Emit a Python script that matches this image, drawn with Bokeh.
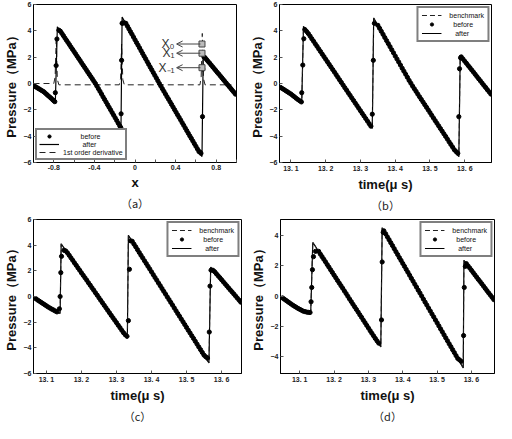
from bokeh.plotting import figure
from bokeh.layouts import column, row
from bokeh.models import Range1d, FixedTicker, Title, Legend, LegendItem, Arrow, OpenHead
from bokeh.embed import file_html
from bokeh.resources import INLINE
from bokeh.core.properties import value

# ---------------- data ----------------
# panel (a): space coordinate x
a_after_x = [-1.0, -0.9, -0.79, -0.785, -0.765, -0.39, -0.138, -0.127, 0.24, 0.66, 0.672, 1.0]
a_after_y = [-0.15, -0.62, -1.38, -1.45, 4.3, 0.0, -3.4, 5.05, 0.0, -5.55, 2.15, -0.9]
a_deriv_x = [-1.0, -0.8, -0.787, -0.776, -0.765, -0.75, -0.155, -0.142, -0.132, -0.12, -0.105,
             0.64, 0.652, 0.663, 0.674, 0.69, 0.95]
a_deriv_y = [0.0, 0.0, 0.5, 3.5, 0.3, -0.1, -0.1, 0.4, 3.0, 0.3, -0.1, -0.1, 0.5, 3.8, 0.4, -0.1, -0.1]
a_dots_x = [-0.99, -0.96, -0.93, -0.90, -0.87, -0.84, -0.81, -0.79, -0.785, -0.777, -0.769,
            -0.75, -0.72, -0.69, -0.66, -0.63, -0.60, -0.57, -0.54, -0.51, -0.48, -0.45, -0.42,
            -0.39, -0.36, -0.33, -0.30, -0.27, -0.24, -0.21, -0.18, -0.15, -0.14, -0.137, -0.132,
            -0.127, -0.12, -0.09, -0.06, -0.03, 0.0, 0.03, 0.06, 0.09, 0.12, 0.15, 0.18, 0.21,
            0.24, 0.27, 0.30, 0.33, 0.36, 0.39, 0.42, 0.45, 0.48, 0.51, 0.54, 0.57, 0.60, 0.63,
            0.65, 0.665, 0.668, 0.68, 0.69, 0.72, 0.75, 0.78, 0.81, 0.84, 0.87, 0.90, 0.93, 0.96, 0.99]
a_dots_y = [-0.20, -0.34, -0.48, -0.62, -0.83, -1.03, -1.24, -1.38, -0.70, 1.36, 3.38,
            4.05, 3.80, 3.45, 3.11, 2.76, 2.42, 2.07, 1.73, 1.38, 1.04, 0.69, 0.35,
            0.0, -0.40, -0.80, -1.21, -1.61, -2.01, -2.41, -2.81, -3.22, -3.35, -2.3, 1.76,
            4.57, 4.6, 4.57, 4.15, 3.74, 3.32, 2.91, 2.49, 2.07, 1.66, 1.24, 0.83, 0.42,
            0.0, -0.40, -0.80, -1.19, -1.59, -1.99, -2.39, -2.78, -3.18, -3.58, -3.98, -4.37, -4.77, -5.17,
            -5.3, -2.52, 1.1, 2.0, 1.96, 1.68, 1.41, 1.13, 0.85, 0.58, 0.30, 0.02, -0.25, -0.53, -0.81]
a_dots2_x = [-0.975, -0.945, -0.915, -0.885, -0.855, -0.825, -0.80,
             -0.735, -0.705, -0.675, -0.645, -0.615, -0.585, -0.555, -0.525, -0.495, -0.465,
             -0.435, -0.405, -0.375, -0.345, -0.315, -0.285, -0.255, -0.225, -0.195, -0.165,
             -0.105, -0.075, -0.045, -0.015, 0.015, 0.045, 0.075, 0.105, 0.135, 0.165,
             0.195, 0.225, 0.255, 0.285, 0.315, 0.345, 0.375, 0.405, 0.435, 0.465,
             0.495, 0.525, 0.555, 0.585, 0.615, 0.64,
             0.705, 0.735, 0.765, 0.795, 0.825, 0.855, 0.885, 0.915, 0.945, 0.975]
a_dots2_y = [-0.27, -0.41, -0.55, -0.72, -0.93, -1.13, -1.31,
             3.97, 3.63, 3.28, 2.94, 2.59, 2.25, 1.90, 1.55, 1.21, 0.86,
             0.52, 0.17, -0.20, -0.60, -1.01, -1.41, -1.81, -2.21, -2.61, -3.02,
             4.6, 4.36, 3.94, 3.53, 3.11, 2.70, 2.28, 1.87, 1.45, 1.04,
             0.62, 0.21, -0.20, -0.60, -1.0, -1.39, -1.79, -2.19, -2.58, -2.98,
             -3.38, -3.78, -4.17, -4.57, -4.97, -5.2,
             1.82, 1.55, 1.27, 0.99, 0.72, 0.44, 0.16, -0.12, -0.39, -0.67]
a_mark_x = [0.66, 0.66, 0.66]
a_mark_y = [3.0, 2.3, 1.2]
a_mark_text = ["X\u2080", "X\u2081", "X\u208b\u2081"]
a_text_x = [0.39, 0.39, 0.39]
a_arrow_end_x = [0.41, 0.41, 0.41]
a_arrow_start_x = [0.645, 0.645, 0.645]
a_xticks = [-0.8, -0.4, 0.0, 0.4, 0.8]
a_xticks_minor = [-1.0, -0.6, -0.2, 0.2, 0.6, 1.0]
a_xticklabels = ["-0.8", "-0.4", "0", "0.4", "0.8"]

# panel (b)
b_after_x = [13.067, 13.10, 13.131, 13.136, 13.334, 13.338, 13.445, 13.583, 13.587, 13.677]
b_after_y = [-0.25, -0.8, -1.45, 4.34, -3.4, 4.98, 0.0, -5.55, 2.12, -0.86]
b_dots_x = [13.07, 13.08, 13.09, 13.10, 13.11, 13.12, 13.13, 13.131, 13.134, 13.137,
            13.14, 13.15, 13.16, 13.17, 13.18, 13.19, 13.20, 13.21, 13.22, 13.23,
            13.24, 13.25, 13.26, 13.27, 13.28, 13.29, 13.30, 13.31, 13.32, 13.33,
            13.334, 13.337, 13.340,
            13.35, 13.36, 13.37, 13.38, 13.39, 13.40, 13.41, 13.42, 13.43, 13.44,
            13.45, 13.46, 13.47, 13.48, 13.49, 13.50, 13.51, 13.52, 13.53, 13.54,
            13.55, 13.56, 13.57, 13.58,
            13.583, 13.585, 13.588,
            13.59, 13.60, 13.61, 13.62, 13.63, 13.64, 13.65, 13.66, 13.67]
b_dots_y = [-0.30, -0.46, -0.63, -0.80, -1.01, -1.22, -1.40, -0.70, 1.40, 3.40,
            4.10, 3.79, 3.40, 3.01, 2.62, 2.23, 1.84, 1.45, 1.06, 0.67,
            0.27, -0.12, -0.51, -0.90, -1.29, -1.68, -2.07, -2.46, -2.85, -3.24,
            -2.33, 1.76, 4.57,
            4.42, 3.96, 3.49, 3.03, 2.56, 2.09, 1.63, 1.16, 0.70, 0.23,
            -0.20, -0.60, -1.01, -1.41, -1.81, -2.21, -2.62, -3.02, -3.42, -3.82,
            -4.22, -4.63, -5.03, -5.30,
            -2.52, 1.12, 1.95,
            2.02, 1.69, 1.36, 1.03, 0.70, 0.36, 0.03, -0.30, -0.63]
b_dots2_x = [13.075, 13.085, 13.095, 13.105, 13.115, 13.125,
             13.145, 13.155, 13.165, 13.175, 13.185, 13.195, 13.205, 13.215, 13.225, 13.235,
             13.245, 13.255, 13.265, 13.275, 13.285, 13.295, 13.305, 13.315, 13.325,
             13.355, 13.365, 13.375, 13.385, 13.395, 13.405, 13.415, 13.425, 13.435, 13.445,
             13.455, 13.465, 13.475, 13.485, 13.495, 13.505, 13.515, 13.525, 13.535, 13.545,
             13.555, 13.565, 13.575,
             13.595, 13.605, 13.615, 13.625, 13.635, 13.645, 13.655, 13.665, 13.675]
b_dots2_y = [-0.38, -0.55, -0.72, -0.91, -1.12, -1.31,
             3.95, 3.60, 3.21, 2.82, 2.43, 2.04, 1.65, 1.26, 0.87, 0.47,
             0.08, -0.32, -0.71, -1.10, -1.49, -1.88, -2.27, -2.66, -3.05,
             4.19, 3.73, 3.26, 2.80, 2.33, 1.86, 1.40, 0.93, 0.47, 0.02,
             -0.40, -0.81, -1.21, -1.61, -2.01, -2.42, -2.82, -3.22, -3.62, -4.02,
             -4.43, -4.83, -5.17,
             1.86, 1.53, 1.20, 0.87, 0.53, 0.20, -0.14, -0.47, -0.80]

# panel (c)
c_after_x = [13.067, 13.09, 13.11, 13.139, 13.142, 13.331, 13.334, 13.564, 13.569, 13.658]
c_after_y = [-0.12, -0.55, -0.9, -1.33, 4.1, -3.25, 4.77, -5.18, 2.29, -0.53]
c_dots_x = [13.07, 13.08, 13.09, 13.10, 13.11, 13.12, 13.13, 13.137, 13.139, 13.141, 13.143,
            13.15, 13.16, 13.17, 13.18, 13.19, 13.20, 13.21, 13.22, 13.23, 13.24,
            13.25, 13.26, 13.27, 13.28, 13.29, 13.30, 13.31, 13.32, 13.33,
            13.334, 13.337, 13.34,
            13.35, 13.36, 13.37, 13.38, 13.39, 13.40, 13.41, 13.42, 13.43, 13.44,
            13.45, 13.46, 13.47, 13.48, 13.49, 13.50, 13.51, 13.52, 13.53, 13.54,
            13.55, 13.56,
            13.565, 13.567, 13.57,
            13.58, 13.59, 13.60, 13.61, 13.62, 13.63, 13.64, 13.65]
c_dots_y = [-0.18, -0.37, -0.55, -0.73, -0.90, -1.05, -1.20, -0.96, 0.0, 1.86, 3.13,
            3.60, 3.40, 3.01, 2.62, 2.23, 1.84, 1.46, 1.07, 0.68, 0.29,
            -0.10, -0.49, -0.88, -1.27, -1.66, -2.04, -2.43, -2.82, -3.10,
            -1.88, 2.12, 4.34,
            4.08, 3.65, 3.21, 2.78, 2.35, 1.92, 1.48, 1.05, 0.62, 0.19,
            -0.24, -0.67, -1.11, -1.54, -1.97, -2.41, -2.84, -3.27, -3.71, -4.14,
            -4.57, -4.80,
            -2.77, 0.81, 2.05,
            1.94, 1.62, 1.31, 0.99, 0.67, 0.36, 0.04, -0.28]
c_dots2_x = [13.075, 13.085, 13.095, 13.105, 13.115, 13.125,
             13.155, 13.165, 13.175, 13.185, 13.195, 13.205, 13.215, 13.225, 13.235, 13.245,
             13.255, 13.265, 13.275, 13.285, 13.295, 13.305, 13.315, 13.325,
             13.345, 13.355, 13.365, 13.375, 13.385, 13.395, 13.405, 13.415, 13.425, 13.435,
             13.445, 13.455, 13.465, 13.475, 13.485, 13.495, 13.505, 13.515, 13.525, 13.535,
             13.545, 13.555,
             13.575, 13.585, 13.595, 13.605, 13.615, 13.625, 13.635, 13.645, 13.655]
c_dots2_y = [-0.28, -0.46, -0.64, -0.82, -0.98, -1.13,
             3.55, 3.21, 2.82, 2.43, 2.04, 1.65, 1.27, 0.88, 0.49, 0.10,
             -0.30, -0.69, -1.08, -1.47, -1.85, -2.24, -2.63, -2.98,
             4.30, 3.87, 3.43, 3.00, 2.57, 2.14, 1.70, 1.27, 0.84, 0.40,
             -0.03, -0.46, -0.89, -1.33, -1.76, -2.19, -2.63, -3.06, -3.49, -3.93,
             -4.36, -4.70,
             2.05, 1.78, 1.47, 1.15, 0.83, 0.51, 0.20, -0.12, -0.44]

# panel (d)
d_after_x = [13.048, 13.083, 13.112, 13.132, 13.138, 13.336, 13.340, 13.576, 13.578, 13.667]
d_after_y = [-0.08, -0.65, -1.02, -1.1, 3.54, -3.35, 4.5, -4.74, 2.35, -0.29]
d_dots_x = [13.05, 13.06, 13.07, 13.08, 13.09, 13.10, 13.11, 13.12, 13.13,
            13.133, 13.135, 13.137, 13.140, 13.146, 13.155,
            13.16, 13.17, 13.18, 13.19, 13.20, 13.21, 13.22, 13.23, 13.24, 13.25,
            13.26, 13.27, 13.28, 13.29, 13.30, 13.31, 13.32, 13.33,
            13.338, 13.340, 13.343,
            13.35, 13.36, 13.37, 13.38, 13.39, 13.40, 13.41, 13.42, 13.43, 13.44,
            13.45, 13.46, 13.47, 13.48, 13.49, 13.50, 13.51, 13.52, 13.53, 13.54,
            13.55, 13.56, 13.57,
            13.577, 13.579, 13.582,
            13.59, 13.60, 13.61, 13.62, 13.63, 13.64, 13.65, 13.66]
d_dots_y = [-0.12, -0.28, -0.44, -0.60, -0.74, -0.87, -0.99, -1.05, -1.08,
            -0.37, 0.57, 1.74, 2.60, 2.95, 2.95,
            2.77, 2.43, 2.08, 1.73, 1.38, 1.03, 0.69, 0.34, -0.01, -0.36,
            -0.71, -1.05, -1.40, -1.75, -2.10, -2.45, -2.79, -3.10,
            -1.57, 2.25, 4.20,
            4.11, 3.72, 3.33, 2.93, 2.54, 2.15, 1.76, 1.37, 0.98, 0.59,
            0.20, -0.20, -0.59, -0.98, -1.37, -1.76, -2.16, -2.55, -2.94, -3.33,
            -3.72, -4.11, -4.30,
            -2.60, 0.57, 1.96,
            1.99, 1.70, 1.40, 1.10, 0.81, 0.51, 0.21, -0.08]
d_dots2_x = [13.055, 13.065, 13.075, 13.085, 13.095, 13.105, 13.115, 13.125,
             13.165, 13.175, 13.185, 13.195, 13.205, 13.215, 13.225, 13.235, 13.245, 13.255,
             13.265, 13.275, 13.285, 13.295, 13.305, 13.315, 13.325,
             13.345, 13.355, 13.365, 13.375, 13.385, 13.395, 13.405, 13.415, 13.425, 13.435,
             13.445, 13.455, 13.465, 13.475, 13.485, 13.495, 13.505, 13.515, 13.525, 13.535,
             13.545, 13.555, 13.565,
             13.585, 13.595, 13.605, 13.615, 13.625, 13.635, 13.645, 13.655, 13.665]
d_dots2_y = [-0.20, -0.36, -0.52, -0.67, -0.81, -0.93, -1.02, -1.07,
             2.60, 2.26, 1.91, 1.56, 1.21, 0.86, 0.52, 0.17, -0.19, -0.54,
             -0.88, -1.23, -1.58, -1.93, -2.28, -2.62, -2.95,
             4.30, 3.91, 3.52, 3.13, 2.74, 2.35, 1.96, 1.57, 1.17, 0.78,
             0.39, 0.0, -0.40, -0.79, -1.18, -1.57, -1.96, -2.35, -2.75, -3.14,
             -3.53, -3.92, -4.20,
             2.14, 1.85, 1.55, 1.25, 0.96, 0.66, 0.36, 0.07, -0.23]

t_xticks = [13.1, 13.2, 13.3, 13.4, 13.5, 13.6]
t_xticklabels = ["13. 1", "13. 2", "13. 3", "13. 4", "13. 5", "13. 6"]
y_ticks_full = [-6, -4, -2, 0, 2, 4, 6]
y_ticks_d = [-4, -2, 0, 2, 4]

y_label = "Pressure\uff08MPa\uff09"
t_label = "time(\u03bc s)"
captions = ["\uff08a\uff09", "\uff08b\uff09", "\uff08c\uff09", "\uff08d\uff09"]

FONT = "Liberation Sans"


def make_fig(width, height, xr, yr, bl, br, bt, bb, xticks, xlabels, yticks, xlabel, caption,
             minor=None):
    p = figure(width=width, height=height, x_range=Range1d(*xr), y_range=Range1d(*yr),
               output_backend="svg", toolbar_location=None,
               min_border_left=bl, min_border_right=br, min_border_top=bt, min_border_bottom=bb)
    p.grid.visible = False
    p.outline_line_color = "black"
    p.outline_line_width = 1
    p.outline_line_alpha = 1
    p.background_fill_color = "white"
    p.border_fill_color = "white"
    p.xaxis.ticker = FixedTicker(ticks=xticks, minor_ticks=minor or [])
    p.xaxis.major_label_overrides = {t: l for t, l in zip(xticks, xlabels)}
    p.yaxis.ticker = FixedTicker(ticks=yticks)
    for ax in (p.xaxis[0], p.yaxis[0]):
        ax.major_tick_in = 3
        ax.major_tick_out = 0
        ax.minor_tick_in = 3 if (minor and ax is p.xaxis[0]) else 0
        ax.minor_tick_out = 0
        ax.major_label_text_font = FONT
        ax.major_label_text_font_size = "7px"
        ax.major_label_text_font_style = "bold"
        ax.major_label_text_color = "#222222"
        ax.major_label_standoff = 2
        ax.axis_label_standoff = 2
        ax.axis_label_text_font = FONT
        ax.axis_label_text_font_style = "bold"
        ax.axis_label_text_font_size = "13px"
        ax.axis_label_text_color = "#111111"
        ax.axis_line_color = "black"
        ax.major_tick_line_color = "#555555"
        ax.minor_tick_line_color = "#555555"
    p.yaxis.axis_label = y_label
    p.xaxis.axis_label = xlabel
    t = Title(text=caption, align="center", text_font_size="11px", text_font_style="normal",
              text_font="Noto Sans CJK SC", standoff=0, text_color="#222222")
    p.add_layout(t, "below")
    return p


def style_legend(leg, loc):
    leg.location = loc
    leg.label_text_font = FONT
    leg.label_text_font_size = "7px"
    leg.label_text_color = "#111111"
    leg.glyph_width = 20
    leg.glyph_height = 8
    leg.label_height = 8
    leg.spacing = 1
    leg.padding = 3
    leg.margin = 2
    leg.label_standoff = 4
    leg.border_line_color = "black"
    leg.border_line_width = 2
    leg.background_fill_color = "white"
    leg.background_fill_alpha = 1


def add_series(p, after_x, after_y, dots_x, dots_y, dots2_x, dots2_y, bench=True):
    r_after = p.line(after_x, after_y, line_color="black", line_width=1.2)
    r_bench = None
    if bench:
        r_bench = p.line(after_x, after_y, line_color="#222222", line_width=1, line_dash="5 3")
    r_dots = p.scatter(dots_x + dots2_x, dots_y + dots2_y, marker="circle", size=4.2,
                       fill_color="black", line_color="black")
    return r_after, r_bench, r_dots


NB = "\u00a0"

# (a)
pa = make_fig(246, 215, (-1.0, 1.0), (-6, 6), 30, 10, 4, 53, a_xticks, a_xticklabels,
              y_ticks_full, "x", captions[0], minor=a_xticks_minor)
r_der = pa.line(a_deriv_x, a_deriv_y, line_color="#222222", line_width=1, line_dash="6 4")
ra_after, _, ra_dots = add_series(pa, a_after_x, a_after_y, a_dots_x, a_dots_y,
                                  a_dots2_x, a_dots2_y, bench=False)
pa.scatter(a_mark_x, a_mark_y, marker="square", size=6, fill_color="#bbbbbb", line_color="#444444")
for xs, xe, yy in zip(a_arrow_start_x, a_arrow_end_x, a_mark_y):
    pa.add_layout(Arrow(end=OpenHead(size=6, line_color="#444444", line_width=1),
                        x_start=xs, y_start=yy, x_end=xe, y_end=yy,
                        line_color="#444444", line_width=1))
pa.text(x=a_text_x, y=a_mark_y, text=a_mark_text, text_align="right", text_baseline="middle",
        text_font_size="12px", text_font=value(FONT), text_color="#333333")
leg_a = Legend(items=[LegendItem(label=NB * 9 + "before", renderers=[ra_dots]),
                      LegendItem(label=NB * 10 + "after", renderers=[ra_after]),
                      LegendItem(label="1st order derivative", renderers=[r_der])])
style_legend(leg_a, "bottom_left")
leg_a.spacing = 0
leg_a.padding = 2
pa.add_layout(leg_a)

panels = []
for (w, h, xr, yr, bl, br, bt, bb, yt, cap, ax_, ay_, dx_, dy_, dx2_, dy2_, loc) in [
    (250, 215, (13.067, 13.677), (-6, 6), 31, 5, 4, 53, y_ticks_full, captions[1],
     b_after_x, b_after_y, b_dots_x, b_dots_y, b_dots2_x, b_dots2_y, "top_right"),
    (247, 208, (13.063, 13.657), (-6, 6), 33, 6, 4, 44, y_ticks_full, captions[2],
     c_after_x, c_after_y, c_dots_x, c_dots_y, c_dots2_x, c_dots2_y, "top_right"),
    (249, 208, (13.044, 13.667), (-5.1, 5.05), 32, 2, 4, 44, y_ticks_d, captions[3],
     d_after_x, d_after_y, d_dots_x, d_dots_y, d_dots2_x, d_dots2_y, "top_right"),
]:
    p = make_fig(w, h, xr, yr, bl, br, bt, bb, t_xticks, t_xticklabels, yt, t_label, cap)
    r_after, r_bench, r_dots = add_series(p, ax_, ay_, dx_, dy_, dx2_, dy2_)
    leg = Legend(items=[LegendItem(label=NB * 2 + "benchmark", renderers=[r_bench]),
                        LegendItem(label=NB * 4 + "before", renderers=[r_dots]),
                        LegendItem(label=NB * 5 + "after", renderers=[r_after])])
    style_legend(leg, loc)
    p.add_layout(leg)
    panels.append(p)

layout = column(row(pa, panels[0]), row(panels[1], panels[2]))
open("out.html", "w").write(file_html(layout, INLINE))
